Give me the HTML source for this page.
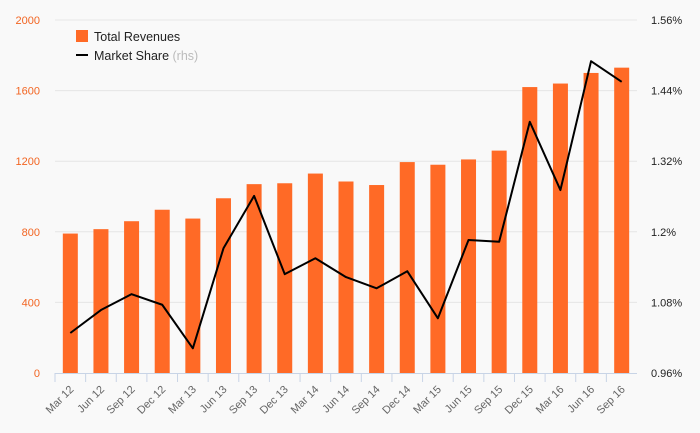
<!DOCTYPE html>
<html><head><meta charset="utf-8"><style>
html,body{margin:0;padding:0;background:#f9f9f9;}
svg{display:block;font-family:"Liberation Sans","DejaVu Sans",sans-serif;}
</style></head><body>
<svg id="chart" width="700" height="433"></svg>
<script>
const categories=["Mar 12","Jun 12","Sep 12","Dec 12","Mar 13","Jun 13","Sep 13","Dec 13","Mar 14","Jun 14","Sep 14","Dec 14","Mar 15","Jun 15","Sep 15","Dec 15","Mar 16","Jun 16","Sep 16"];
const revenues=[790,815,860,925,875,990,1070,1075,1130,1085,1065,1195,1180,1210,1260,1620,1640,1700,1730];
const marketShare=[1.028,1.067,1.094,1.076,1.002,1.172,1.261,1.128,1.155,1.123,1.104,1.133,1.053,1.186,1.183,1.387,1.271,1.490,1.455];
const leftTicks=[0,400,800,1200,1600,2000];
const rightTicks=[0.96,1.08,1.2,1.32,1.44,1.56];
const rightTickLabels=["0.96%","1.08%","1.2%","1.32%","1.44%","1.56%"];

const NS="http://www.w3.org/2000/svg";
const svg=document.getElementById('chart');
const x0=55,x1=637,yTop=20,yBot=373;
const band=(x1-x0)/categories.length;
const yL=v=>yBot-(v-0)/(2000-0)*(yBot-yTop);
const yR=v=>yBot-(v-0.96)/(1.56-0.96)*(yBot-yTop);
const xC=i=>x0+band*(i+0.5);
function mk(t,a,p){const e=document.createElementNS(NS,t);for(const k in a)e.setAttribute(k,a[k]);(p||svg).appendChild(e);return e;}

leftTicks.forEach((t,i)=>{
  if(t>0){const g=mk('line',{x1:x0,x2:x1,y1:yL(t),y2:yL(t),stroke:'#e6e6e6','stroke-width':1});
  
  }
  const l=mk('text',{x:40,y:yL(t)+4,'text-anchor':'end','font-size':11,fill:'#f26522'});
  l.textContent=t;
  
  
});
rightTicks.forEach((t,i)=>{
  const l=mk('text',{x:651,y:yR(t)+4,'font-size':11,fill:'#222'});
  l.textContent=rightTickLabels[i];
  
  
});
revenues.forEach((v,i)=>{
  const b=mk('rect',{x:xC(i)-7.5,y:yL(v),width:15,height:yBot-yL(v),fill:'#ff6a26'});
  
  
});
const ax=mk('line',{x1:x0,x2:x1,y1:yBot+0.5,y2:yBot+0.5,stroke:'#c8d4e6'});


categories.forEach((c,i)=>{
  const tk=mk('line',{x1:x0+band*i,x2:x0+band*i,y1:yBot,y2:yBot+9,stroke:'#c8d4e6'});
  
  
  const cx=xC(i)+4,cy=yBot+17;
  const l=mk('text',{x:cx,y:cy,'text-anchor':'end','font-size':11,fill:'#666',transform:`rotate(-45 ${cx} ${cy})`});
  l.textContent=c;
  
  
});
const pl=mk('polyline',{points:marketShare.map((v,i)=>xC(i)+','+yR(v)).join(' '),fill:'none',stroke:'#000','stroke-width':2,'stroke-linejoin':'round'});



const lg=mk('g',{});


const s1=mk('rect',{x:76,y:30,width:12,height:12,fill:'#ff6a26'},lg);


const t1=mk('text',{x:94,y:41,'font-size':12.5,fill:'#222'},lg);
t1.textContent='Total Revenues';


const s2=mk('line',{x1:76,x2:88,y1:55,y2:55,stroke:'#000','stroke-width':2},lg);


const t2=mk('text',{x:94,y:60,'font-size':12.5,fill:'#222'},lg);
t2.innerHTML='Market Share <tspan fill="#bbb">(rhs)</tspan>';


</script>
</body></html>
